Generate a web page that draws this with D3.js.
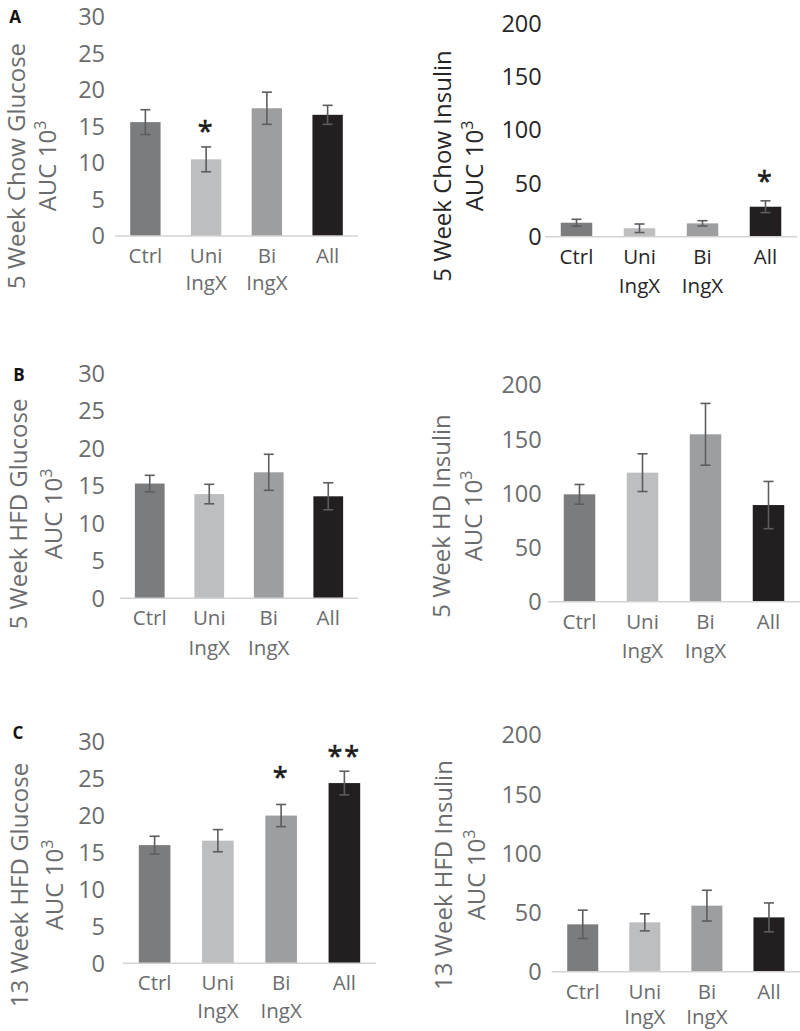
<!DOCTYPE html>
<html><head><meta charset="utf-8">
<script src="https://cdn.jsdelivr.net/npm/d3@7"></script>
<style>body{margin:0;background:#fff}svg{display:block}</style>
</head><body>
<svg id="chart" width="800" height="1031"></svg>
<script>
// ---------- data ----------
const categories = [["Ctrl"], ["Uni", "IngX"], ["Bi", "IngX"], ["All"]];
const barColors = ["#7b7c7e", "#bdbec0", "#9d9ea0", "#231f20"];

const chowGlucose     = [15.6, 10.5, 17.5, 16.6];
const chowGlucoseErr  = [1.7, 1.7, 2.2, 1.3];
const chowInsulin     = [13.1, 7.9, 12.5, 28.1];
const chowInsulinErr  = [3.2, 4.0, 2.5, 5.5];
const hfdGlucose5     = [15.3, 13.9, 16.8, 13.6];
const hfdGlucose5Err  = [1.1, 1.3, 2.4, 1.8];
const hdInsulin5      = [99.1, 119.1, 154.5, 89.2];
const hdInsulin5Err   = [9.1, 17.4, 28.5, 21.8];
const hfdGlucose13    = [16.0, 16.6, 20.0, 24.4];
const hfdGlucose13Err = [1.2, 1.5, 1.5, 1.6];
const hfdInsulin13    = [40.0, 41.7, 55.8, 45.9];
const hfdInsulin13Err = [12.0, 7.2, 13.0, 12.2];

const glucoseTicks = [0, 5, 10, 15, 20, 25, 30];
const insulinTicks = [0, 50, 100, 150, 200];

const starsAChowGlucose = ["", "*", "", ""];
const starsAChowInsulin = ["", "", "", "*"];
const starsC13Glucose   = ["", "", "*", "**"];
const noStars           = ["", "", "", ""];

const panelLetters = ["A", "B", "C"];

// ---------- layout ----------
const panels = [
  {vals: chowGlucose, errs: chowGlucoseErr, ticks: glucoseTicks, stars: starsAChowGlucose,
   title: "5 Week Chow Glucose", x0: 115, x1: 358, yB: 236, yT: 17, tickR: 105,
   t1x: 25, t2x: 56, tcy: 166, color: "#6b6c6e", starGap: [20, 20, 20, 20], lh: 27},
  {vals: chowInsulin, errs: chowInsulinErr, ticks: insulinTicks, stars: starsAChowInsulin,
   title: "5 Week Chow Insulin", x0: 545, x1: 797, yB: 236.7, yT: 23.3, tickR: 541.7,
   t1x: 451, t2x: 483, tcy: 166, color: "#262626", starGap: [24, 24, 24, 24], lh: 29},
  {vals: hfdGlucose5, errs: hfdGlucose5Err, ticks: glucoseTicks, stars: noStars,
   title: "5 Week HFD Glucose", x0: 120, x1: 358, yB: 598.3, yT: 373.3, tickR: 105,
   t1x: 27, t2x: 62, tcy: 514, color: "#6b6c6e", starGap: [20, 20, 20, 20], lh: 30},
  {vals: hdInsulin5, errs: hdInsulin5Err, ticks: insulinTicks, stars: noStars,
   title: "5 Week HD Insulin", x0: 548, x1: 800, yB: 601.7, yT: 385, tickR: 541.7,
   t1x: 450, t2x: 482, tcy: 516, color: "#6b6c6e", starGap: [20, 20, 20, 20], lh: 29},
  {vals: hfdGlucose13, errs: hfdGlucose13Err, ticks: glucoseTicks, stars: starsC13Glucose,
   title: "13 Week HFD Glucose", x0: 123, x1: 376, yB: 963.3, yT: 741.7, tickR: 105,
   t1x: 28, t2x: 63, tcy: 885, color: "#6b6c6e", starGap: [20, 20, 31, 19], lh: 28},
  {vals: hfdInsulin13, errs: hfdInsulin13Err, ticks: insulinTicks, stars: noStars,
   title: "13 Week HFD Insulin", x0: 551.7, x1: 800, yB: 971.7, yT: 735, tickR: 541.7,
   t1x: 452, t2x: 485, tcy: 875, color: "#6b6c6e", starGap: [20, 20, 20, 20], lh: 25.5}
];
const letterPos = [[15, 23], [19, 381], [18, 739]];

const FONT = "'Open Sans', 'DejaVu Sans', sans-serif";
const svg = d3.select("#chart");

panels.forEach(p => {
  const g = svg.append("g");
  const x = d3.scaleBand().domain(d3.range(categories.length)).range([p.x0, p.x1]).padding(0);
  const y = d3.scaleLinear().domain([0, d3.max(p.ticks)]).range([p.yB, p.yT]);
  const bw = x.bandwidth() * 0.5;

  // y tick labels
  g.selectAll("text.tick").data(p.ticks).join("text")
    .attr("x", p.tickR).attr("y", d => y(d))
    .attr("dy", "0.36em").attr("text-anchor", "end")
    .attr("font-family", FONT).attr("font-size", 23.5).attr("fill", p.color)
    .text(d => d);

  // bars
  g.selectAll("rect.bar").data(p.vals).join("rect")
    .attr("x", (d, i) => x(i) + (x.bandwidth() - bw) / 2)
    .attr("y", d => y(d)).attr("width", bw)
    .attr("height", d => y(0) - y(d))
    .attr("fill", (d, i) => barColors[i]);

  // baseline axis
  g.append("line").attr("x1", p.x0).attr("x2", p.x1)
    .attr("y1", y(0)).attr("y2", y(0))
    .attr("stroke", "#d3d3d3").attr("stroke-width", 1.5);

  // error bars
  const eg = g.selectAll("g.err").data(p.vals).join("g");
  eg.each(function (d, i) {
    const cx = x(i) + x.bandwidth() / 2;
    const e = p.errs[i];
    const s = d3.select(this);
    const st = {stroke: "#5c5d5f", "stroke-width": 1.6};
    const l1 = s.append("line").attr("x1", cx).attr("x2", cx).attr("y1", y(d + e)).attr("y2", y(d - e));
    const l2 = s.append("line").attr("x1", cx - 5).attr("x2", cx + 5).attr("y1", y(d + e)).attr("y2", y(d + e));
    const l3 = s.append("line").attr("x1", cx - 5).attr("x2", cx + 5).attr("y1", y(d - e)).attr("y2", y(d - e));
    [l1, l2, l3].forEach(l => { for (const k in st) l.attr(k, st[k]); });
  });

  // significance stars
  g.selectAll("text.star").data(p.stars).join("text")
    .attr("x", (d, i) => x(i) + x.bandwidth() / 2)
    .attr("y", (d, i) => y(p.vals[i] + p.errs[i]) - p.starGap[i] + 14)
    .attr("text-anchor", "middle")
    .attr("font-family", FONT).attr("font-size", 27).attr("fill", "#1a1a1a")
    .attr("stroke", "#1a1a1a").attr("stroke-width", 0.6)
    .attr("letter-spacing", 2)
    .text(d => d);

  // category labels
  categories.forEach((lines, i) => {
    const cx = x(i) + x.bandwidth() / 2;
    lines.forEach((t, j) => {
      g.append("text").attr("x", cx).attr("y", y(0) + 27 + j * p.lh)
        .attr("text-anchor", "middle")
        .attr("font-family", FONT).attr("font-size", 20.5).attr("fill", p.color)
        .text(t);
    });
  });

  // y title (rotated, two lines)
  g.append("text")
    .attr("transform", `translate(${p.t1x},${p.tcy}) rotate(-90)`)
    .attr("text-anchor", "middle")
    .attr("font-family", FONT).attr("font-size", 24).attr("fill", p.color)
    .text(p.title);
  const t2 = g.append("text")
    .attr("transform", `translate(${p.t2x},${p.tcy}) rotate(-90)`)
    .attr("text-anchor", "middle")
    .attr("font-family", FONT).attr("font-size", 24).attr("fill", p.color);
  t2.append("tspan").text("AUC 10");
  t2.append("tspan").attr("font-size", 16).attr("dy", -10).text("3");
});

panelLetters.forEach((L, i) => {
  svg.append("text").attr("x", letterPos[i][0]).attr("y", letterPos[i][1])
    .attr("text-anchor", "middle")
    .attr("font-family", FONT).attr("font-weight", "bold").attr("font-size", 17)
    .attr("fill", "#111").text(L);
});
</script>
</body></html>
